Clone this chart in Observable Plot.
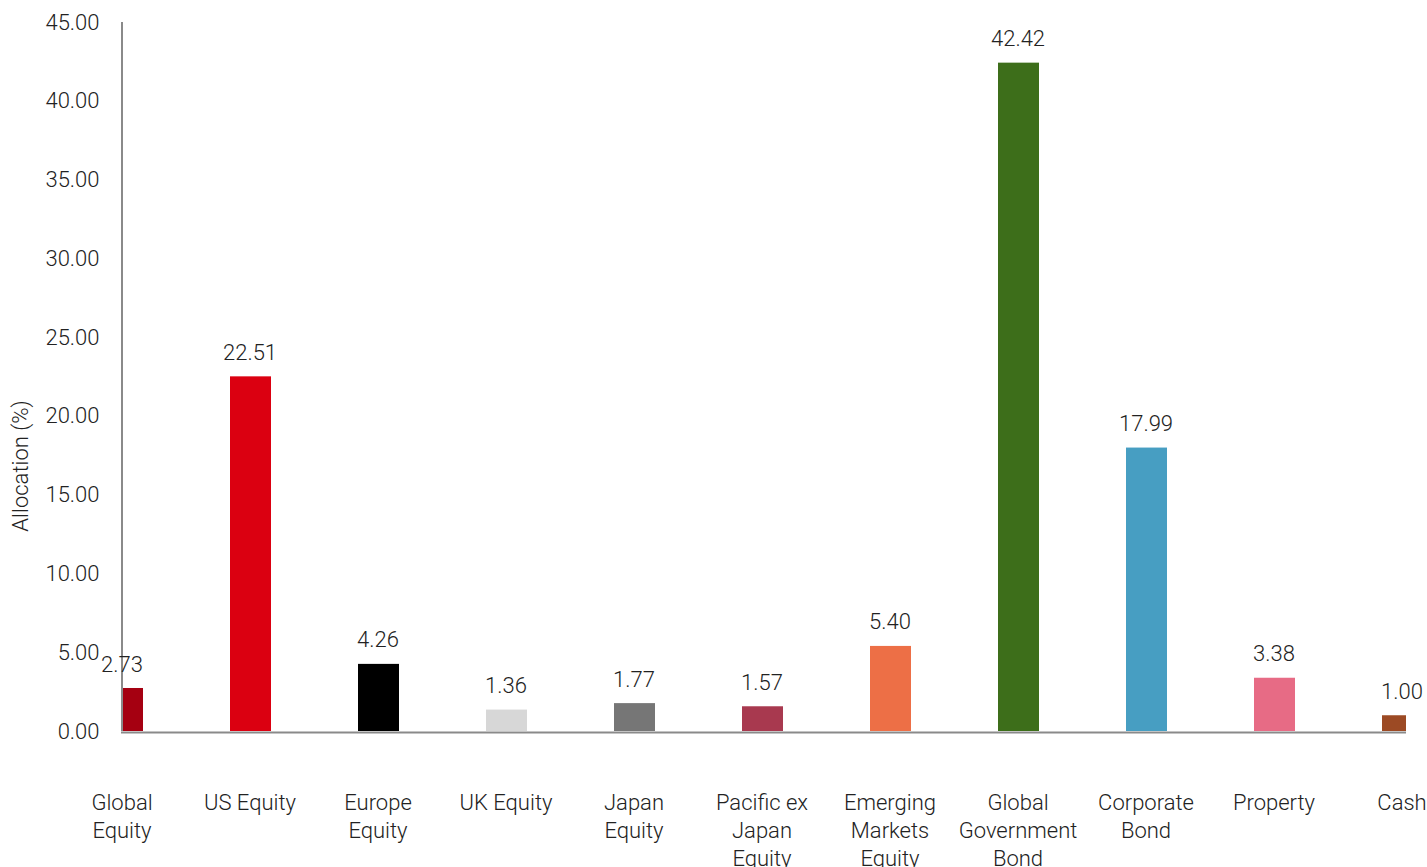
<!DOCTYPE html>
<html>
<head>
<meta charset="utf-8">
<script src="https://cdn.jsdelivr.net/npm/d3@7"></script>
<script src="https://cdn.jsdelivr.net/npm/@observablehq/plot@0.6"></script>
<style>
  html, body { margin: 0; padding: 0; background: #fff; overflow: hidden; }
  #chart svg { display: block; }
</style>
</head>
<body>
<div id="chart"></div>
<script>
const categories = ["Global Equity", "US Equity", "Europe Equity", "UK Equity", "Japan Equity", "Pacific ex Japan Equity", "Emerging Markets Equity", "Global Government Bond", "Corporate Bond", "Property", "Cash"];
const tickLabels = ["Global\nEquity", "US Equity", "Europe\nEquity", "UK Equity", "Japan\nEquity", "Pacific ex\nJapan\nEquity", "Emerging\nMarkets\nEquity", "Global\nGovernment\nBond", "Corporate\nBond", "Property", "Cash"];
const allocation = [2.73, 22.51, 4.26, 1.36, 1.77, 1.57, 5.40, 42.42, 17.99, 3.38, 1.00];
const colors = ["#a50011", "#db0011", "#000000", "#d7d7d7", "#767676", "#a8394f", "#ed6f46", "#3d6e1a", "#479ec2", "#e76b85", "#9c4a24"];
const yTicks = [0, 5, 10, 15, 20, 25, 30, 35, 40, 45];

const data = categories.map((c, i) => ({category: c, value: allocation[i], color: colors[i], label: tickLabels[i]}));
const labelOf = new Map(data.map(d => [d.category, d.label]));

const W = 1427, H = 867;
const left = 121, right = 1406;
const lastCenter = 1403.5;
const step = (lastCenter - left) / (categories.length - 1);
const font = "Roboto, 'Liberation Sans', 'DejaVu Sans', sans-serif";
const FS = 22;
const ink = "#222";

const chart = Plot.plot({
  width: W,
  height: H,
  marginLeft: left,
  marginRight: W - right,
  marginTop: 22,
  marginBottom: H - 731,
  style: {fontFamily: font, fontSize: FS + "px", color: ink, background: "#fff", fontWeight: 300},
  x: {
    type: "band",
    domain: categories,
    range: [left - step / 2, lastCenter + step / 2],
    paddingInner: 0.68,
    paddingOuter: 0.34,
    align: 0.5
  },
  y: {domain: [0, 45], ticks: yTicks},
  marks: [
    Plot.barY(data, {x: "category", y: "value", fill: "color", clip: true}),
    Plot.ruleY([0], {stroke: "#8a8a8a", strokeWidth: 2, dy: 1}),
    Plot.ruleX([categories[0]], {y1: 0, y2: 45, stroke: "#8a8a8a", strokeWidth: 2, dx: -1}),
    Plot.axisY({
      ticks: yTicks,
      tickSize: 0,
      tickPadding: 22,
      tickFormat: d => d.toFixed(2),
      label: null,
      fontSize: FS,
      fill: ink
    }),
    Plot.axisX({
      tickSize: 0,
      tickPadding: 0,
      dy: 58,
      dx: -1,
      tickFormat: d => labelOf.get(d),
      lineHeight: 1.28,
      lineAnchor: "top",
      label: null,
      fontSize: FS,
      fill: ink
    }),
    Plot.text(data, {
      x: "category",
      y: "value",
      text: d => d.value.toFixed(2),
      dy: -24,
      dx: -1,
      lineAnchor: "middle",
      fontSize: FS,
      fill: ink
    }),
    Plot.text(["Allocation (%)"], {
      frameAnchor: "left",
      dx: -101,
      dy: 89,
      rotate: -90,
      textAnchor: "middle",
      lineAnchor: "middle",
      fontSize: FS,
      fill: ink
    })
  ]
});
document.getElementById("chart").appendChild(chart);
</script>
</body>
</html>
